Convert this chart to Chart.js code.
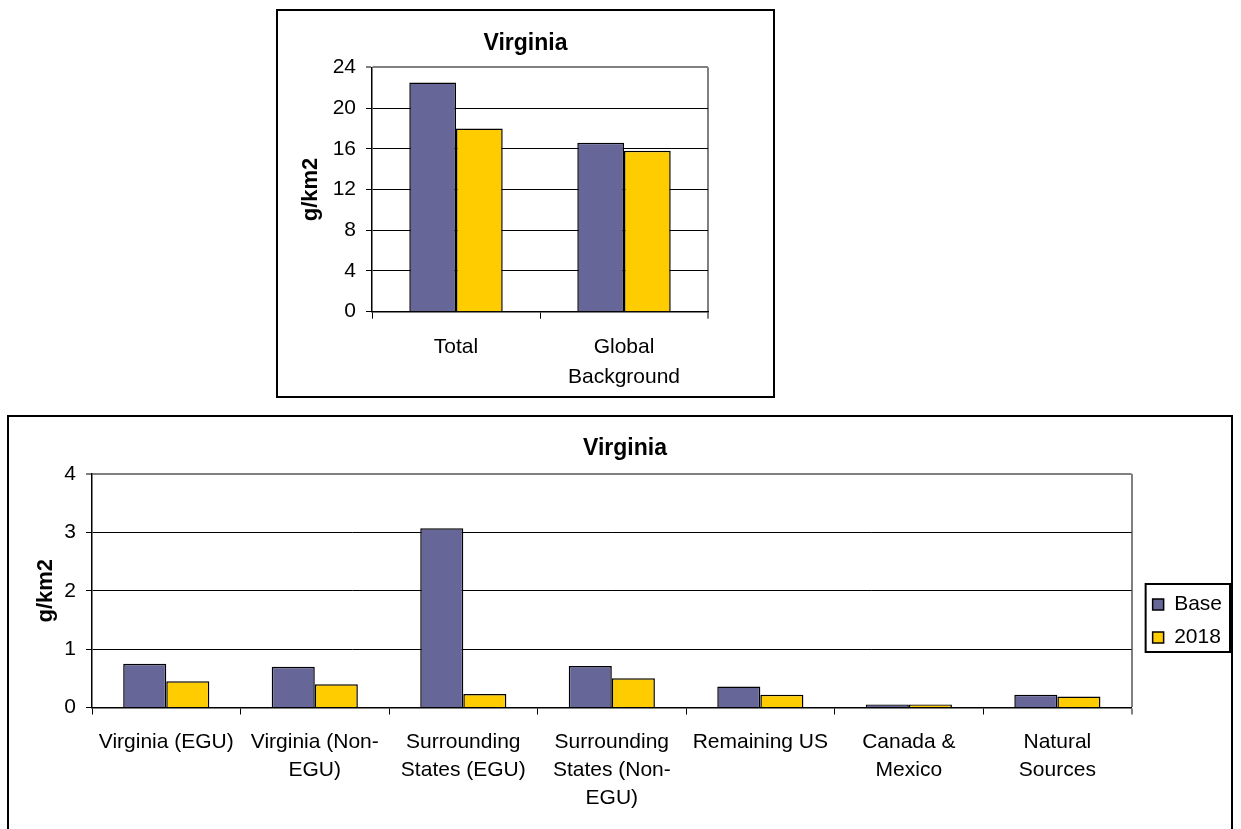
<!DOCTYPE html>
<html>
<head>
<meta charset="utf-8">
<script src="https://cdn.jsdelivr.net/npm/chart.js@4.4.1/dist/chart.umd.min.js"></script>
<style>
  html, body { margin: 0; padding: 0; background: #fff; width: 1241px; height: 829px; overflow: hidden; position: relative; }
  .frame { position: absolute; box-sizing: border-box; border: 2px solid #000; }
  canvas { position: absolute; }
</style>
</head>
<body>
<div class="frame" style="left:276px;top:9px;width:499px;height:389px"></div>
<div class="frame" style="left:7px;top:415px;width:1226px;height:500px"></div>
<canvas id="totals" width="493" height="383" style="left:279px;top:12px"></canvas>
<canvas id="sources" width="1232" height="412" style="left:9px;top:417px"></canvas>
<script>
// Deposition totals (g/km2)
const totalCategories = ['Total', ['Global', 'Background']];
const totalBase = [22.5, 16.6];
const total2018 = [18.0, 15.8];
const totalTicks = { min: 0, max: 24, step: 4 };

// Contributions by source region (g/km2)
const sourceCategories = [
  'Virginia (EGU)',
  ['Virginia (Non-', 'EGU)'],
  ['Surrounding', 'States (EGU)'],
  ['Surrounding', 'States (Non-', 'EGU)'],
  'Remaining US',
  ['Canada &', 'Mexico'],
  ['Natural', 'Sources']
];
const sourceBase = [0.75, 0.70, 3.07, 0.71, 0.36, 0.05, 0.22];
const source2018 = [0.45, 0.40, 0.23, 0.50, 0.22, 0.05, 0.19];
const sourceTicks = { min: 0, max: 4, step: 1 };

const seriesNames = ['Base', '2018'];
const chartTitle = 'Virginia';
const unitLabel = 'g/km2';

Chart.defaults.font.family = "'Liberation Sans', Arial, sans-serif";
Chart.defaults.color = '#000';
Chart.defaults.animation = false;

const BASE_FILL = '#666699';
const NEW_FILL = '#FFCC00';
const FRAME_GREY = '#808080';

function datasets(base, next) {
  return [
    { label: seriesNames[0], data: base, backgroundColor: BASE_FILL, borderColor: '#000', borderWidth: 1.5 },
    { label: seriesNames[1], data: next, backgroundColor: NEW_FILL, borderColor: '#000', borderWidth: 1.5 }
  ];
}

function buildOptions(cfg) {
  return {
    responsive: false,
    devicePixelRatio: 1,
    layout: { padding: cfg.padding },
    datasets: { bar: { categoryPercentage: cfg.groupWidth, barPercentage: 1 } },
    plugins: {
      title: {
        display: true, text: chartTitle, color: '#000',
        font: { size: 23, weight: 'bold' },
        padding: { top: cfg.titleTop, bottom: cfg.titleBottom }
      },
      legend: cfg.legend,
      tooltip: { enabled: false }
    },
    scales: {
      x: {
        offset: true,
        ticks: {
          color: '#000', font: { size: 21, lineHeight: cfg.xLine }, padding: cfg.xPad,
          maxRotation: 0, minRotation: 0, autoSkip: false
        },
        grid: {
          offset: true,
          color: ctx => ctx.tick ? 'rgba(0,0,0,0)' : FRAME_GREY,
          lineWidth: ctx => ctx.tick ? 1 : 2,
          tickLength: 7, tickColor: '#000', tickWidth: 1
        },
        border: { color: '#000', width: 1.5 },
        afterFit: s => { s.height = cfg.xHeight; }
      },
      y: {
        min: cfg.ticks.min, max: cfg.ticks.max,
        ticks: { stepSize: cfg.ticks.step, color: '#000', font: { size: 21 }, padding: 10 },
        grid: {
          color: ctx => (ctx.tick && ctx.tick.value === cfg.ticks.max) ? FRAME_GREY : '#000',
          lineWidth: ctx => (ctx.tick && ctx.tick.value === cfg.ticks.max) ? 2 : 1,
          tickLength: 6, tickColor: '#000', tickWidth: 1
        },
        border: { color: '#000', width: 1.5 },
        title: {
          display: true, text: unitLabel, color: '#000',
          font: { size: 22, weight: 'bold' },
          padding: { top: cfg.yTitlePad, bottom: 0 }
        },
        afterFit: s => { s.width = cfg.yWidth; }
      }
    }
  };
}

// Title is centred over the whole canvas, not just the padded layout area
const centreTitle = {
  id: 'centreTitle',
  afterLayout(chart) {
    const t = chart.titleBlock;
    if (!t) return;
    t.left = 0;
    t.right = chart.width;
    t.width = chart.width;
  }
};

// Legend sits a little to the right of the plot and gets a framed box
const legendFrame = {
  id: 'legendFrame',
  afterLayout(chart) {
    const lg = chart.legend;
    lg.left += 9;
    lg.right += 9;
    lg.top -= 2;
    lg.bottom -= 2;
  },
  afterDraw(chart) {
    const boxes = chart.legend.legendHitBoxes;
    if (!boxes || !boxes.length) return;
    const left = Math.min(...boxes.map(b => b.left)) - 7;
    const right = Math.max(...boxes.map(b => b.left + b.width)) + 8;
    const top = boxes[0].top - 10;
    const last = boxes[boxes.length - 1];
    const bottom = last.top + last.height + 4;
    const ctx = chart.ctx;
    ctx.save();
    ctx.strokeStyle = '#000';
    ctx.lineWidth = 2;
    ctx.strokeRect(left, top, right - left, bottom - top);
    ctx.restore();
  }
};

new Chart(document.getElementById('totals'), {
  type: 'bar',
  data: { labels: totalCategories, datasets: datasets(totalBase, total2018) },
  options: buildOptions({
    padding: { top: 0, left: 0, right: 64, bottom: 0 },
    groupWidth: 0.556,
    titleTop: 17.5, titleBottom: 10.2,
    legend: { display: false },
    xLine: 1.43, xPad: 13, xHeight: 83.3,
    ticks: totalTicks,
    yTitlePad: 19, yWidth: 93
  }),
  plugins: [centreTitle]
});

new Chart(document.getElementById('sources'), {
  type: 'bar',
  data: { labels: sourceCategories, datasets: datasets(sourceBase, source2018) },
  options: buildOptions({
    padding: { top: 0, left: 0, right: 18, bottom: 0 },
    groupWidth: 0.58,
    titleTop: 18.2, titleBottom: 11.2,
    legend: {
      display: true, position: 'right',
      labels: { boxWidth: 11, boxHeight: 11, padding: 12, color: '#000', font: { size: 21 } }
    },
    xLine: 1.333, xPad: 14, xHeight: 121.5,
    ticks: sourceTicks,
    yTitlePad: 23.5, yWidth: 83
  }),
  plugins: [centreTitle, legendFrame]
});
</script>
</body>
</html>
